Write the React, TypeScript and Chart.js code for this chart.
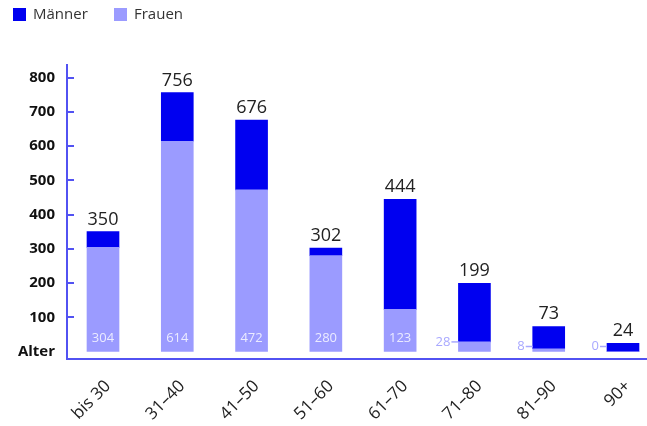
import React, { useEffect, useRef } from "react";
import { Chart, registerables } from "chart.js";

Chart.register(...registerables);

const categories = ["bis 30", "31–40", "41–50", "51–60", "61–70", "71–80", "81–90", "90+"];
const frauen = [304, 614, 472, 280, 123, 28, 8, 0];
const totals = [350, 756, 676, 302, 444, 199, 73, 24];
const maenner = totals.map((t, i) => t - frauen[i]);
const seriesNames = ["Männer", "Frauen"];

const MAENNER_COLOR = "#0000f0";
const FRAUEN_COLOR = "#9b9bff";
const AXIS_COLOR = "#5252f2";
const FONT = '"Open Sans", "Noto Sans", sans-serif';

const W = 647;
const H = 426;

const customPlugin = {
  id: "custom",
  beforeDatasetsDraw(chart: any) {
    const { ctx, chartArea, scales } = chart;
    const y = scales.y;
    const x = scales.x;
    const axisX = chartArea.left - 36;
    const axisY = chartArea.bottom + 7.5;
    ctx.save();
    ctx.strokeStyle = AXIS_COLOR;
    ctx.lineWidth = 2;
    ctx.beginPath();
    ctx.moveTo(axisX, chartArea.top - 13.5);
    ctx.lineTo(axisX, axisY + 1);
    ctx.moveTo(axisX - 1, axisY);
    ctx.lineTo(chart.width, axisY);
    ctx.stroke();
    ctx.beginPath();
    for (let v = 100; v <= 800; v += 100) {
      const py = Math.round(y.getPixelForValue(v));
      ctx.moveTo(axisX, py);
      ctx.lineTo(axisX + 7, py);
    }
    ctx.stroke();
    // legend
    ctx.font = `15px ${FONT}`;
    ctx.textBaseline = "middle";
    ctx.textAlign = "left";
    const items = [
      { x: 13, color: MAENNER_COLOR, label: seriesNames[0] },
      { x: 114, color: FRAUEN_COLOR, label: seriesNames[1] },
    ];
    for (const it of items) {
      ctx.fillStyle = it.color;
      ctx.fillRect(it.x, 8, 13, 13);
      ctx.fillStyle = "#333";
      ctx.fillText(it.label, it.x + 20, 15);
    }
    // x category labels, rotated 45°
    ctx.font = `17px ${FONT}`;
    ctx.fillStyle = "#222";
    ctx.textAlign = "right";
    ctx.textBaseline = "middle";
    for (let i = 0; i < categories.length; i++) {
      const px = x.getPixelForValue(i);
      ctx.save();
      ctx.translate(px + 5, chartArea.bottom + 32);
      ctx.rotate(-Math.PI / 4);
      ctx.fillText(categories[i], 0, 0);
      ctx.restore();
    }
    ctx.restore();
  },
  afterDatasetsDraw(chart: any) {
    const { ctx, scales } = chart;
    const base = scales.y.getPixelForValue(0);
    const fMeta = chart.getDatasetMeta(0);
    const mMeta = chart.getDatasetMeta(1);
    ctx.save();
    for (let i = 0; i < categories.length; i++) {
      const mEl = mMeta.data[i];
      const fEl = fMeta.data[i];
      ctx.font = `18px ${FONT}`;
      ctx.fillStyle = "#222";
      ctx.textAlign = "center";
      ctx.textBaseline = "alphabetic";
      ctx.fillText(String(totals[i]), mEl.x, mEl.y - 7);
      const fv = frauen[i];
      ctx.font = `13px ${FONT}`;
      ctx.textBaseline = "middle";
      if (fv >= 50) {
        ctx.fillStyle = "rgba(255,255,255,0.8)";
        ctx.textAlign = "center";
        ctx.fillText(String(fv), fEl.x, base - 13);
      } else {
        const left = fEl.x - 16;
        const ly = Math.min(fEl.y, base - 5);
        ctx.fillStyle = "#a8a8ff";
        ctx.strokeStyle = "#a8a8ff";
        ctx.lineWidth = 1.5;
        ctx.textAlign = "right";
        ctx.fillText(String(fv), left - 8, ly);
        ctx.beginPath();
        ctx.moveTo(left - 7, ly);
        ctx.lineTo(left, ly);
        ctx.stroke();
      }
    }
    ctx.restore();
  },
};

export default function App() {
  const ref = useRef<HTMLCanvasElement | null>(null);
  useEffect(() => {
    if (!ref.current) return;
    Chart.defaults.font.family = FONT;
    const chart = new Chart(ref.current, {
      type: "bar",
      data: {
        labels: categories,
        datasets: [
          {
            label: seriesNames[1],
            data: frauen,
            backgroundColor: FRAUEN_COLOR,
            stack: "s",
            barThickness: 32,
            clip: false as any,
          },
          {
            label: seriesNames[0],
            data: maenner,
            backgroundColor: MAENNER_COLOR,
            stack: "s",
            barThickness: 32,
            clip: false as any,
          },
        ],
      },
      options: {
        responsive: false,
        animation: false,
        devicePixelRatio: 1,
        layout: { padding: { top: 77.5, right: 24, left: 0, bottom: 0 } },
        plugins: { legend: { display: false }, tooltip: { enabled: false } },
        scales: {
          x: {
            stacked: true,
            offset: false,
            grid: { display: false, drawTicks: false },
            border: { display: false },
            ticks: { display: false, autoSkip: false },
            afterFit: (s: any) => {
              s.height = 74.5;
            },
          },
          y: {
            stacked: true,
            min: 0,
            max: 800,
            grid: { display: false, drawTicks: false },
            border: { display: false },
            ticks: {
              stepSize: 100,
              padding: 48,
              color: "#111",
              font: { size: 15, weight: "bold", family: FONT },
              callback: (v: any) => (v === 0 ? "Alter" : String(v)),
            },
            afterFit: (s: any) => {
              s.width = 103;
            },
          },
        },
      },
      plugins: [customPlugin],
    });
    return () => chart.destroy();
  }, []);
  return (
    <div style={{ position: "absolute", left: 0, top: 0, width: W, height: H, background: "#fff" }}>
      <canvas ref={ref} width={W} height={H} style={{ display: "block", width: W, height: H }} />
    </div>
  );
}
